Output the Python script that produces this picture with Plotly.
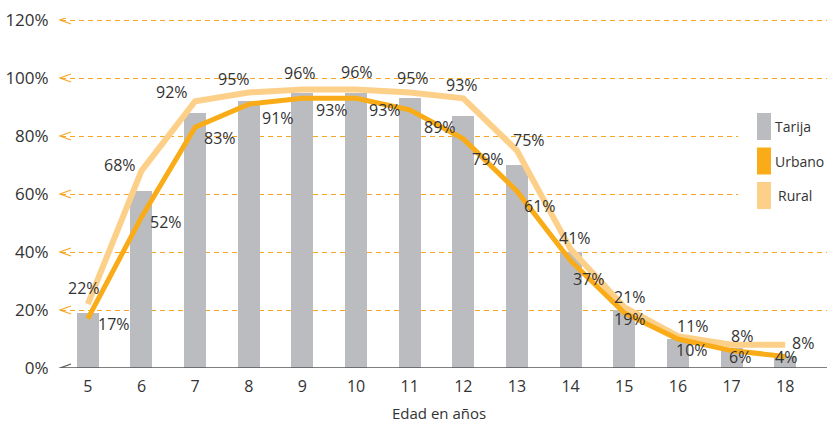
import plotly.graph_objects as go

# Edad en años
edades = [5, 6, 7, 8, 9, 10, 11, 12, 13, 14, 15, 16, 17, 18]
# Porcentaje de asistencia escolar
tarija = [19, 61, 88, 92, 95, 95, 93, 87, 70, 40, 20, 10, 7, 4]
urbano = [17, 52, 83, 91, 93, 93, 89, 79, 61, 37, 19, 10, 6, 4]
rural = [22, 68, 92, 95, 96, 96, 95, 93, 75, 41, 21, 11, 8, 8]
y_ticks = [0, 20, 40, 60, 80, 100, 120]

GRIS = "#BBBCBF"
NARANJA = "#F9AC17"
CLARO = "#FDD08A"
REJILLA = "#F6A623"
TEXTO = "#333333"
FUENTE = "Open Sans"

# pixel offsets of the value labels relative to each point
rural_dx = [-4, -21, -23, -15, -2, 1, 3, -1, 12, 4, 6, 15, 10, 18]
rural_dy = [16, 6, 9, 14, 17, 18, 15, 13, 11, 11, 10, 10, 9, 2]
urb_dx = [26, 25, 25, 29, 30, 29, 30, 25, 23, 18, 6, 14, 8, 1]
urb_dy = [-5, -5, -11, -14, -12, -12, -17, -20, -15, -18, -6, -11, -6, -1]

TOP = 18
BOTTOM = 368
Y_MAX = 120 * (BOTTOM - TOP) / 348.0

fig = go.Figure()
fig.add_trace(go.Bar(x=edades, y=tarija, width=0.41, marker_color=GRIS,
                     marker_line_width=0, showlegend=False))
fig.add_trace(go.Scatter(x=edades, y=rural, mode="lines",
                         line=dict(color=CLARO, width=6), showlegend=False))
fig.add_trace(go.Scatter(x=edades, y=urbano, mode="lines",
                         line=dict(color=NARANJA, width=5), showlegend=False))

etiqueta = dict(family=FUENTE, size=16, color=TEXTO)
ann = []
for x, v, dx, dy in zip(edades, rural, rural_dx, rural_dy):
    ann.append(dict(x=x, y=v, text=f"{v}%", showarrow=False, xshift=dx, yshift=dy,
                    font=etiqueta))
for x, v, dx, dy in zip(edades, urbano, urb_dx, urb_dy):
    ann.append(dict(x=x, y=v, text=f"{v}%", showarrow=False, xshift=dx, yshift=dy,
                    font=etiqueta))

ann.append(dict(x=11.54, y=0, yref="y", text="Edad en años", showarrow=False,
                yshift=-45, font=dict(family=FUENTE, size=15, color=TEXTO)))

shapes = []
# chevrons at the start of each gridline
for t in y_ticks:
    col = "#555555" if t == 0 else REJILLA
    shapes.append(dict(type="path", xref="paper", yref="y", xsizemode="pixel",
                       ysizemode="pixel", xanchor=0, yanchor=t,
                       path="M 10,4 L -1,0 L 10,-4", line=dict(color=col, width=1.2),
                       layer="above"))
# zero baseline
shapes.append(dict(type="line", xref="paper", yref="y", x0=0, x1=1, y0=0, y1=0,
                   line=dict(color="#555555", width=1.5), layer="above"))

# legend box
leyenda = [("Tarija", GRIS), ("Urbano", NARANJA), ("Rural", CLARO)]
H = BOTTOM - TOP
W = 827 - 61
shapes.append(dict(type="rect", xref="paper", yref="paper", x0=0.884, x1=1.0,
                   y0=0.46, y1=0.80, fillcolor="white", line_width=0, layer="above"))
for i, (nombre, col) in enumerate(leyenda):
    top = 113 + i * 34.5
    y1 = 1 - (top - TOP) / H
    y0 = 1 - (top + 27 - TOP) / H
    shapes.append(dict(type="rect", xref="paper", yref="paper",
                       x0=(757 - 61) / W, x1=(771 - 61) / W, y0=y0, y1=y1,
                       fillcolor=col, line_width=0, layer="above"))
    ann.append(dict(xref="paper", yref="paper", x=(773 - 61) / W + (0.004 if i == 2 else 0),
                    y=(y0 + y1) / 2, xanchor="left", yanchor="middle", text=nombre,
                    showarrow=False, font=dict(family=FUENTE, size=14, color=TEXTO)))

fig.update_layout(
    width=827, height=422,
    margin=dict(l=61, r=0, t=TOP, b=422 - BOTTOM),
    paper_bgcolor="white", plot_bgcolor="white",
    annotations=ann, shapes=shapes, bargap=0,
    xaxis=dict(range=[4.5, 18.78], tickvals=edades, ticktext=[str(e) for e in edades],
               showgrid=False, zeroline=False, showline=False,
               ticks="outside", ticklen=4, tickcolor="white",
               tickfont=dict(family=FUENTE, size=16, color=TEXTO)),
    yaxis=dict(range=[0, Y_MAX], tickvals=y_ticks, ticktext=[f"{t}%" for t in y_ticks],
               showgrid=True, gridcolor=REJILLA, griddash="5px,4px", gridwidth=1,
               zeroline=False, showline=False,
               ticks="outside", ticklen=8, tickcolor="white",
               tickfont=dict(family=FUENTE, size=17, color=TEXTO)),
)

fig.write_html("out.html")
